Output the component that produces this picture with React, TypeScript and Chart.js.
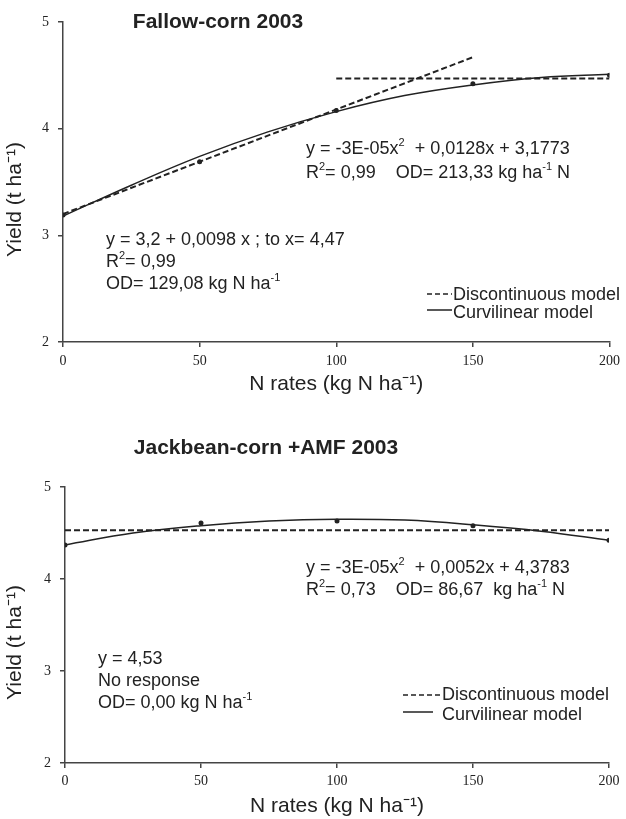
import { useEffect, useRef } from 'react';
import { Chart, registerables } from 'chart.js';

Chart.register(...registerables);

// ---------- data ----------
const nRates = [0, 50, 100, 150, 200];
const xTicks = [0, 50, 100, 150, 200];
const yTicks = [2, 3, 4, 5];
const curveX = [0, 25, 50, 75, 100, 125, 150, 175, 200];

// Fallow-corn 2003
const fallowObserved = [3.19, 3.69, 4.17, 4.42, 4.5];
const fallowCurve = [3.18, 3.47, 3.74, 3.97, 4.16, 4.31, 4.41, 4.48, 4.51];
const fallowLinearX = [0, 150];
const fallowLinearY = [3.2, 4.67];
const fallowPlateauX = [100, 200];
const fallowPlateauY = [4.47, 4.47];

// Jackbean-corn +AMF 2003
const jackObserved = [4.37, 4.61, 4.63, 4.58, 4.42];
const jackCurve = [4.37, 4.5, 4.58, 4.63, 4.65, 4.64, 4.59, 4.52, 4.42];
const jackPlateauX = [0, 200];
const jackPlateauY = [4.53, 4.53];

// ---------- texts ----------
const fallowTitle = 'Fallow-corn 2003';
const jackTitle = 'Jackbean-corn +AMF 2003';
const xTitle = 'N rates (kg N ha\u207B\u00B9)';
const yTitle = 'Yield (t ha\u207B\u00B9)      ';
const legendDisc = 'Discontinuous model';
const legendCurv = 'Curvilinear model';

const fallowNotes = [
  { text: 'y = -3E-05x^{2}  + 0,0128x + 3,1773', x: 306, y: 149 },
  { text: 'R^{2}= 0,99    OD= 213,33 kg ha^{-1} N', x: 306, y: 173 },
  { text: 'y = 3,2 + 0,0098 x ; to x= 4,47', x: 106, y: 240 },
  { text: 'R^{2}= 0,99', x: 106, y: 262 },
  { text: 'OD= 129,08 kg N ha^{-1}', x: 106, y: 284 },
];
const jackNotes = [
  { text: 'y = -3E-05x^{2}  + 0,0052x + 4,3783', x: 306, y: 168 },
  { text: 'R^{2}= 0,73    OD= 86,67  kg ha^{-1} N', x: 306, y: 190 },
  { text: 'y = 4,53', x: 98, y: 259 },
  { text: 'No response', x: 98, y: 281 },
  { text: 'OD= 0,00 kg N ha^{-1}', x: 98, y: 303 },
];

const INK = '#222';
const AXIS = '#444';
const SANS = '"Liberation Sans", Arial, sans-serif';
const SERIF = '"Liberation Serif", "Times New Roman", serif';

function drawRich(ctx: CanvasRenderingContext2D, s: string, x: number, y: number, size: number) {
  const parts: { t: string; sup: boolean }[] = [];
  const re = /\^\{([^}]*)\}/g;
  let last = 0;
  let m: RegExpExecArray | null;
  while ((m = re.exec(s))) {
    if (m.index > last) parts.push({ t: s.slice(last, m.index), sup: false });
    parts.push({ t: m[1], sup: true });
    last = m.index + m[0].length;
  }
  if (last < s.length) parts.push({ t: s.slice(last), sup: false });
  ctx.textBaseline = 'middle';
  ctx.textAlign = 'left';
  let cx = x;
  for (const p of parts) {
    const fs = p.sup ? Math.round(size * 0.6) : size;
    ctx.font = `${fs}px ${SANS}`;
    ctx.fillText(p.t, cx, p.sup ? y - size * 0.32 : y);
    cx += ctx.measureText(p.t).width;
  }
}

type PanelProps = {
  top: number;
  height: number;
  pad: { top: number; right: number };
  yWidth: number;
  xHeight: number;
  xTitlePad: number;
  tickPad: number;
  title: { text: string; x: number; y: number };
  notes: { text: string; x: number; y: number }[];
  legend: { x0: number; x1: number; x2: number; xt: number; y1: number; y2: number; yl1: number; yl2: number };
  observed: number[];
  curve: number[];
  dashed: { x: number[]; y: number[] }[];
};

function Panel(p: PanelProps) {
  const ref = useRef<HTMLCanvasElement>(null);
  useEffect(() => {
    if (!ref.current) return;
    const overlay = {
      id: 'overlay',
      afterDraw(chart: any) {
        const ctx = chart.ctx as CanvasRenderingContext2D;
        ctx.save();
        ctx.fillStyle = INK;
        ctx.font = `bold 21px ${SANS}`;
        ctx.textAlign = 'center';
        ctx.textBaseline = 'middle';
        ctx.fillText(p.title.text, p.title.x, p.title.y);
        for (const n of p.notes) drawRich(ctx, n.text, n.x, n.y, 18);
        // legend
        ctx.strokeStyle = INK;
        ctx.lineWidth = 1.5;
        ctx.setLineDash([5, 3]);
        ctx.beginPath();
        ctx.moveTo(p.legend.x0, p.legend.yl1);
        ctx.lineTo(p.legend.x1, p.legend.yl1);
        ctx.stroke();
        ctx.setLineDash([]);
        ctx.beginPath();
        ctx.moveTo(p.legend.x0, p.legend.yl2);
        ctx.lineTo(p.legend.x2, p.legend.yl2);
        ctx.stroke();
        drawRich(ctx, legendDisc, p.legend.xt, p.legend.y1, 18);
        drawRich(ctx, legendCurv, p.legend.xt, p.legend.y2, 18);
        ctx.restore();
      },
    };
    const datasets: any[] = [
      {
        data: nRates.map((x, i) => ({ x, y: p.observed[i] })),
        showLine: false,
        pointRadius: 2.5,
        pointBackgroundColor: INK,
        pointBorderWidth: 0,
      },
      {
        data: curveX.map((x, i) => ({ x, y: p.curve[i] })),
        borderColor: INK,
        borderWidth: 1.5,
        pointRadius: 0,
        tension: 0.4,
      },
      ...p.dashed.map((d) => ({
        data: d.x.map((x, i) => ({ x, y: d.y[i] })),
        borderColor: INK,
        borderWidth: 2,
        borderDash: [6, 3],
        pointRadius: 0,
      })),
    ];
    const chart = new Chart(ref.current, {
      type: 'line',
      data: { datasets },
      options: {
        animation: false,
        responsive: false,
        events: [],
        layout: { padding: { top: p.pad.top, right: p.pad.right, left: 0, bottom: 0 } },
        plugins: { legend: { display: false }, tooltip: { enabled: false } },
        scales: {
          x: {
            type: 'linear',
            min: 0,
            max: 200,
            afterBuildTicks: (s: any) => {
              s.ticks = xTicks.map((v) => ({ value: v }));
            },
            afterFit: (s: any) => {
              s.height = p.xHeight;
            },
            grid: { display: true, drawOnChartArea: false, drawTicks: true, tickLength: 5, color: AXIS, lineWidth: 1.5 },
            border: { display: true, color: AXIS, width: 1.5 },
            ticks: { color: INK, font: { family: SERIF, size: 14 }, padding: p.tickPad, maxRotation: 0 },
            title: { display: true, text: xTitle, color: INK, font: { family: SANS, size: 21 }, padding: { top: 0, bottom: p.xTitlePad } },
          },
          y: {
            type: 'linear',
            min: 2,
            max: 5,
            afterBuildTicks: (s: any) => {
              s.ticks = yTicks.map((v) => ({ value: v }));
            },
            afterFit: (s: any) => {
              s.width = p.yWidth;
            },
            grid: { display: true, drawOnChartArea: false, drawTicks: true, tickLength: 5, color: AXIS, lineWidth: 1.5 },
            border: { display: true, color: AXIS, width: 1.5 },
            ticks: { color: INK, font: { family: SERIF, size: 14 }, padding: 9 },
            title: { display: true, text: yTitle, color: INK, font: { family: SANS, size: 21 }, padding: { top: 3, bottom: 0 } },
          },
        },
      },
      plugins: [overlay],
    } as any);
    return () => chart.destroy();
  }, []);
  return (
    <canvas
      ref={ref}
      width={626}
      height={p.height}
      style={{ position: 'absolute', left: 0, top: p.top, width: 626, height: p.height, display: 'block' }}
    />
  );
}

export default function App() {
  return (
    <div style={{ position: 'absolute', left: 0, top: 0, width: 626, height: 819, background: '#fff' }}>
      <Panel
        top={0}
        height={400}
        pad={{ top: 22, right: 15 }}
        yWidth={63}
        xHeight={58}
        xTitlePad={3}
        tickPad={6}
        title={{ text: fallowTitle, x: 218, y: 22 }}
        notes={fallowNotes}
        legend={{ x0: 427, x1: 452, x2: 452, xt: 453, y1: 295, y2: 313, yl1: 294, yl2: 310 }}
        observed={fallowObserved}
        curve={fallowCurve}
        dashed={[
          { x: fallowLinearX, y: fallowLinearY },
          { x: fallowPlateauX, y: fallowPlateauY },
        ]}
      />
      <Panel
        top={400}
        height={419}
        pad={{ top: 87, right: 17 }}
        yWidth={65}
        xHeight={56}
        xTitlePad={0}
        tickPad={5}
        title={{ text: jackTitle, x: 266, y: 48 }}
        notes={jackNotes}
        legend={{ x0: 403, x1: 441, x2: 433, xt: 442, y1: 295, y2: 315, yl1: 295, yl2: 312 }}
        observed={jackObserved}
        curve={jackCurve}
        dashed={[{ x: jackPlateauX, y: jackPlateauY }]}
      />
    </div>
  );
}
